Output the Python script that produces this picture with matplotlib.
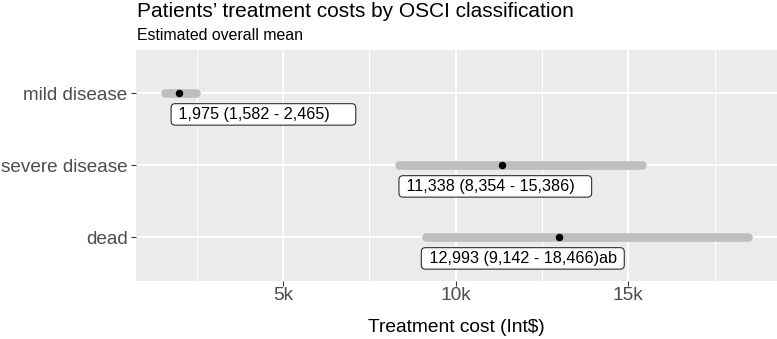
import matplotlib
matplotlib.use("Agg")
import matplotlib.pyplot as plt
from matplotlib.ticker import FixedLocator, FuncFormatter

plt.rcParams['font.family'] = ['Liberation Sans', 'DejaVu Sans']

# ---- data ----
categories = ["mild disease", "severe disease", "dead"]
mean_cost = [1975, 11338, 12993]
lower_ci = [1582, 8354, 9142]
upper_ci = [2465, 15386, 18466]
label_text = [" 1,975 (1,582 - 2,465)     ",
              " 11,338 (8,354 - 15,386)   ",
              " 12,993 (9,142 - 18,466)ab "]
x_major = [5000, 10000, 15000]
x_minor = [2500, 7500, 12500, 17500]

# ---- layout / style ----
label_nudge_pt = [6.6, 2.4, -1.1]
W, H = 777, 339
fig = plt.figure(figsize=(W / 100, H / 100), dpi=100)
left, right, top, bottom = 136, 777, 50.1, 280.5
ax = fig.add_axes([left / W, 1 - bottom / H, (right - left) / W, (bottom - top) / H])
ax.set_facecolor("#EBEBEB")
for s in ax.spines.values():
    s.set_visible(False)

ypos = [3, 2, 1]
for yy, lo, hi, m in zip(ypos, lower_ci, upper_ci, mean_cost):
    ax.plot([lo, hi], [yy, yy], color="#BEBEBE", lw=6.2, solid_capstyle="round", zorder=3)
    ax.plot([m], [yy], "o", color="black", ms=4.4, zorder=4)

for yy, lo, txt, dx in zip(ypos, lower_ci, label_text, label_nudge_pt):
    ax.annotate(txt, xy=(lo, yy), xytext=(dx, -15.2), textcoords="offset points",
                ha="left", va="center", fontsize=11.6, color="black", zorder=5,
                bbox=dict(boxstyle="round,pad=0.2,rounding_size=0.25", fc="white",
                          ec="#222222", lw=0.75))

lo_all, hi_all = min(lower_ci), max(upper_ci)
span = hi_all - lo_all
ax.set_xlim(lo_all - 0.05 * span, hi_all + 0.05 * span)
ax.set_ylim(0.4, 3.6)

ax.xaxis.set_major_locator(FixedLocator(x_major))
ax.xaxis.set_minor_locator(FixedLocator(x_minor))
ax.xaxis.set_major_formatter(FuncFormatter(lambda v, p: f"{int(v/1000)}k"))
ax.set_yticks(ypos)
ax.set_yticklabels(categories)

ax.grid(which="major", color="white", lw=1.5)
ax.grid(which="minor", axis="x", color="white", lw=0.75)
ax.set_axisbelow(True)

ax.tick_params(axis="both", which="major", length=3.6, width=0.75, color="#333333",
               labelsize=13.6, labelcolor="#4D4D4D", pad=2.4)
ax.tick_params(axis="x", which="minor", length=0)
ax.tick_params(axis="x", which="major", pad=1.2, labelsize=13.8)

ax.set_xlabel("Treatment cost (Int$)", fontsize=13.8, color="black", labelpad=11)

fig.text(136.7 / W, 1 - 16.7 / H, "Patients\u2019 treatment costs by OSCI classification",
         fontsize=15, color="black", ha="left", va="baseline")
fig.text(136.7 / W, 1 - 40 / H, "Estimated overall mean",
         fontsize=11.4, color="black", ha="left", va="baseline")

fig.savefig("out.png", dpi=100)
